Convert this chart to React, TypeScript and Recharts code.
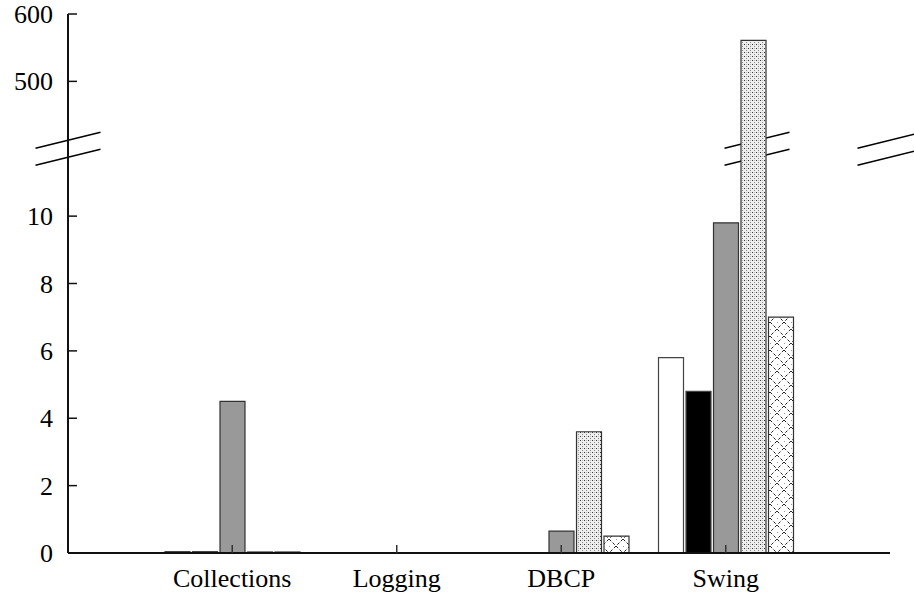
import React from 'react';
import { BarChart, Bar, XAxis, YAxis } from 'recharts';

const categories = ['Collections', 'Logging', 'DBCP', 'Swing'];
const series1 = [0.04, 0, 0, 5.8];
const series2 = [0.04, 0, 0, 4.8];
const series3 = [4.5, 0, 0.65, 9.8];
const series4 = [0.03, 0, 3.6, 561];
const series5 = [0.03, 0, 0.5, 7.0];
const yTicks = [0, 2, 4, 6, 8, 10, 500, 600];

// broken axis: 0..12 drawn as is, 400..600 squeezed on top
const BREAK_LOW = 12;
const BREAK_HIGH = 400;
const UPPER_FACTOR = 50;
const toAxis = (v: number) => (v <= BREAK_LOW ? v : BREAK_LOW + (v - BREAK_HIGH) / UPPER_FACTOR);
const fromAxis = (t: number) => (t <= BREAK_LOW ? t : BREAK_HIGH + (t - BREAK_LOW) * UPPER_FACTOR);
const AXIS_MAX = toAxis(600);

const W = 914;
const H = 598;
const PLOT_LEFT = 68;
const PLOT_RIGHT = 890;
const PLOT_TOP = 14;
const PLOT_BOTTOM = 553;
const FONT = 'Liberation Serif';
const FONT_SIZE = 26;

const data = categories.map((name, i) => ({
  name,
  s1: series1[i],
  s2: series2[i],
  s3: series3[i],
  s4: series4[i],
  s5: series5[i],
}));

const yPix = (t: number) => PLOT_TOP + ((AXIS_MAX - t) / AXIS_MAX) * (PLOT_BOTTOM - PLOT_TOP);

const LeftTick = (props: any) => {
  const { y, payload } = props;
  return (
    <g>
      <line x1={PLOT_LEFT} x2={PLOT_LEFT + 9} y1={y} y2={y} stroke="#111" strokeWidth={1.5} />
      <text x={PLOT_LEFT - 15} y={y} dy={9} textAnchor="end" fontFamily={FONT} fontSize={FONT_SIZE} fill="#000">
        {fromAxis(payload.value)}
      </text>
    </g>
  );
};

const RightTick = (props: any) => {
  const { y } = props;
  return <line x1={PLOT_RIGHT - 8} x2={PLOT_RIGHT} y1={y} y2={y} stroke="#333" strokeWidth={1.5} />;
};

const BottomTick = (props: any) => {
  const { x, payload } = props;
  return (
    <g>
      <line x1={x} x2={x} y1={PLOT_BOTTOM} y2={PLOT_BOTTOM - 8} stroke="#333" strokeWidth={1.5} />
      <text x={x} y={PLOT_BOTTOM + 34} textAnchor="middle" fontFamily={FONT} fontSize={FONT_SIZE} fill="#000">
        {payload.value}
      </text>
    </g>
  );
};

const BreakMark = ({ cx }: { cx: number }) => {
  const cy = yPix(BREAK_LOW);
  return (
    <g stroke="#000" strokeWidth={1.5}>
      <line x1={cx - 32.5} y1={cy - 8.5 + 8} x2={cx + 32.5} y2={cy - 8.5 - 8} />
      <line x1={cx - 32.5} y1={cy + 8.5 + 8} x2={cx + 32.5} y2={cy + 8.5 - 8} />
    </g>
  );
};

export default function App() {
  return (
    <div style={{ position: 'relative', width: W, height: H, background: '#fff' }}>
      <style>{'body{margin:0}'}</style>
      <svg width={W} height={H} style={{ position: 'absolute', left: 0, top: 0 }}>
        <BreakMark cx={PLOT_LEFT} />
        <BreakMark cx={757} />
        <BreakMark cx={PLOT_RIGHT} />
      </svg>
      <div style={{ position: 'absolute', left: 0, top: 0 }}>
        <BarChart
          width={W}
          height={H}
          data={data}
          margin={{ top: PLOT_TOP, right: W - PLOT_RIGHT, bottom: 0, left: 8 }}
          barSize={25}
          barGap={2.5}
        >
          <defs>
            <pattern id="dots" width="4" height="4" patternUnits="userSpaceOnUse">
              <rect width="4" height="4" fill="#eeeeee" />
              <rect x="0" y="0" width="1" height="1" fill="#333" />
              <rect x="2" y="2" width="1" height="1" fill="#888" />
              <rect x="2" y="0" width="1" height="1" fill="#bbb" />
            </pattern>
            <pattern id="cross" width="14" height="14" patternUnits="userSpaceOnUse">
              <rect width="14" height="14" fill="#fff" />
              <path d="M0,0 L14,14 M14,0 L0,14" stroke="#222" strokeWidth="1" strokeDasharray="3,2" />
              <rect x="7" y="0" width="1" height="1" fill="#999" />
              <rect x="0" y="7" width="1" height="1" fill="#999" />
            </pattern>
          </defs>
          <XAxis
            dataKey="name"
            xAxisId="bottom"
            height={H - PLOT_BOTTOM}
            padding={{ left: 82, right: 82 }}
            axisLine={{ stroke: '#111', strokeWidth: 2 }}
            tickLine={false}
            tick={<BottomTick />}
            interval={0}
          />
          <XAxis
            dataKey="name"
            xAxisId="top"
            orientation="top"
            height={0}
            padding={{ left: 82, right: 82 }}
            axisLine={{ stroke: '#111', strokeWidth: 2 }}
            tickLine={false}
            tick={false}
          />
          <YAxis
            yAxisId="left"
            width={PLOT_LEFT - 8}
            domain={[0, AXIS_MAX]}
            ticks={yTicks.map(toAxis)}
            interval={0}
            axisLine={{ stroke: '#111', strokeWidth: 2 }}
            tickLine={false}
            tick={<LeftTick />}
          />
          <YAxis
            yAxisId="right"
            orientation="right"
            width={0}
            domain={[0, AXIS_MAX]}
            ticks={yTicks.map(toAxis)}
            interval={0}
            axisLine={{ stroke: '#111', strokeWidth: 2 }}
            tickLine={false}
            tick={<RightTick />}
          />
          <Bar xAxisId="bottom" yAxisId="left" dataKey={(d: any) => toAxis(d.s1)} fill="#fff" stroke="#444" strokeWidth={1.2} isAnimationActive={false} />
          <Bar xAxisId="bottom" yAxisId="left" dataKey={(d: any) => toAxis(d.s2)} fill="#000" stroke="#444" strokeWidth={1.2} isAnimationActive={false} />
          <Bar xAxisId="bottom" yAxisId="left" dataKey={(d: any) => toAxis(d.s3)} fill="#999" stroke="#333" strokeWidth={1.2} isAnimationActive={false} />
          <Bar xAxisId="bottom" yAxisId="left" dataKey={(d: any) => toAxis(d.s4)} fill="url(#dots)" stroke="#333" strokeWidth={1.2} isAnimationActive={false} />
          <Bar xAxisId="bottom" yAxisId="left" dataKey={(d: any) => toAxis(d.s5)} fill="url(#cross)" stroke="#333" strokeWidth={1.2} isAnimationActive={false} />
        </BarChart>
      </div>
    </div>
  );
}
